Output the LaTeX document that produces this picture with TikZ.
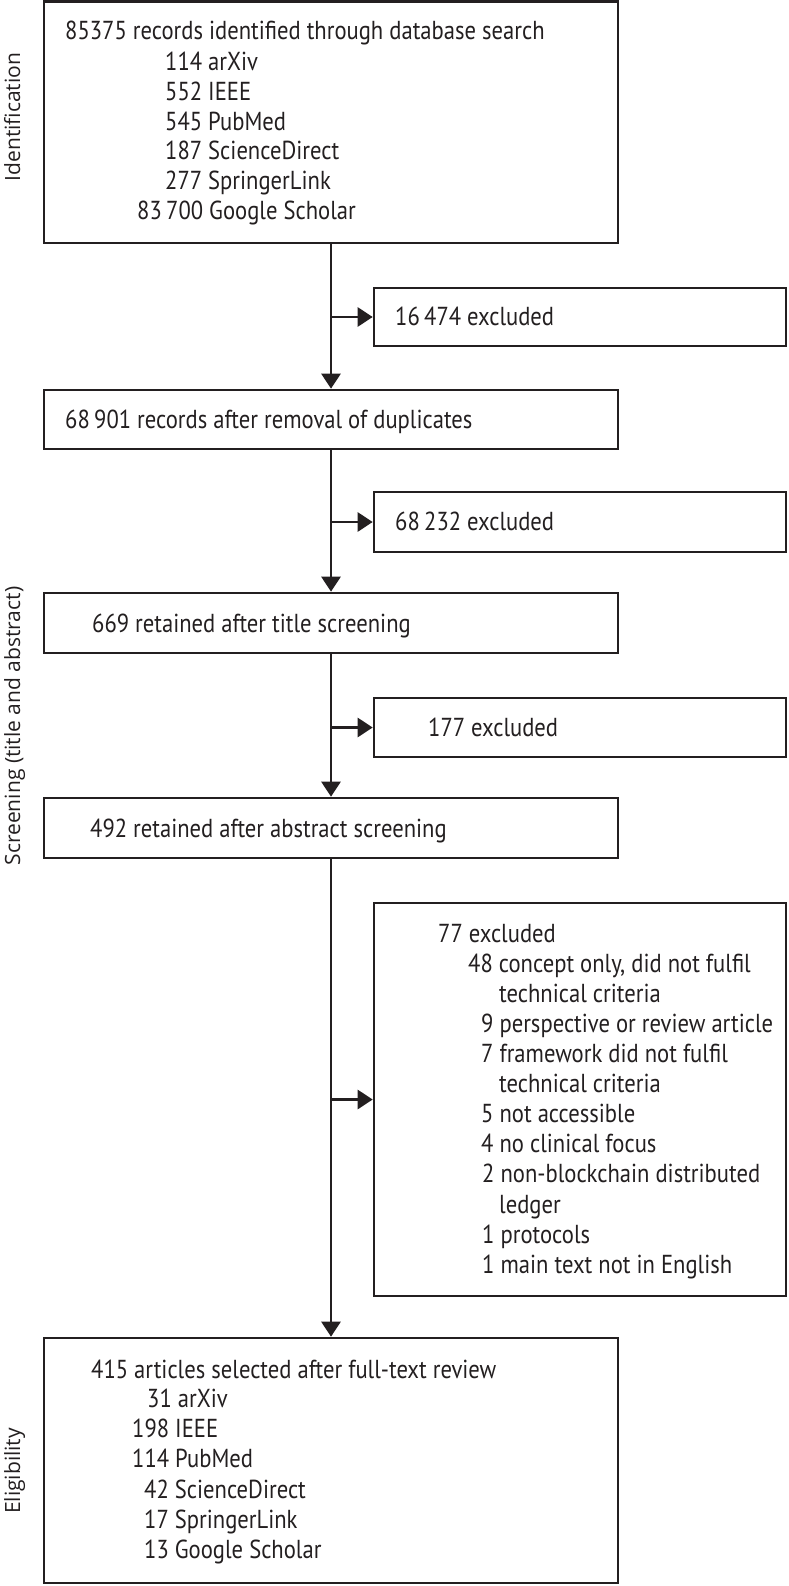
\documentclass[tikz,border=0pt]{standalone}
\usepackage{fontspec}
\usetikzlibrary{arrows.meta}
\newfontfamily\boxfont[FakeStretch=0.87]{PT Sans}
\newfontfamily\sidefont{Open Sans}
\definecolor{ink}{HTML}{231F20}
\tikzset{
  box/.style={draw=ink, line width=2.6pt, rectangle, inner sep=0pt},
  txt/.style={anchor=base west, inner sep=0pt, text=ink, font=\boxfont\fontsize{26}{30}\selectfont},
  side/.style={anchor=base, rotate=90, inner sep=0pt, text=ink, font=\sidefont\fontsize{21}{25}\selectfont},
  arr/.style={draw=ink, line width=2.6pt, -{Triangle[length=15pt,width=19pt]}},
}
\begin{document}
\begin{tikzpicture}[x=1pt,y=-1pt]
\useasboundingbox (0,0) rectangle (788,1586);
\fill[white] (0,0) rectangle (788,1586);
% boxes
\node[box, minimum width=574pt, minimum height=241.5pt] (b1) at (331,122.25) {};
\node[box, minimum width=412pt, minimum height=58pt] (e1) at (580,317) {};
\node[box, minimum width=574pt, minimum height=59pt] (b2) at (331,419.5) {};
\node[box, minimum width=412pt, minimum height=60pt] (e2) at (580,522) {};
\node[box, minimum width=574pt, minimum height=60pt] (b3) at (331,623) {};
\node[box, minimum width=412pt, minimum height=59pt] (e3) at (580,727.5) {};
\node[box, minimum width=574pt, minimum height=60pt] (b4) at (331,828) {};
\node[box, minimum width=412pt, minimum height=393pt] (e4) at (580,1099.5) {};
\node[box, minimum width=574pt, minimum height=245pt] (b5) at (331,1460.5) {};
% junctions
\coordinate (j1) at (331,317);
\coordinate (j2) at (331,522);
\coordinate (j3) at (331,727.5);
\coordinate (j4) at (331,1099.5);
% connectors
\draw[arr] (b1.south) -- (b2.north);
\draw[arr] (b2.south) -- (b3.north);
\draw[arr] (b3.south) -- (b4.north);
\draw[arr] (b4.south) -- (b5.north);
\draw[arr] (j1) -- (e1.west);
\draw[arr] (j2) -- (e2.west);
\draw[arr] (j3) -- (e3.west);
\draw[arr] (j4) -- (e4.west);
% side labels
\node[side] (s1) at (20,117) {Identification};
\node[side] (s2) at (20,726) {Screening (title and abstract)};
\node[side] (s3) at (20,1471) {Eligibility};
% top box text
\node[txt] (t1a) at (65,40) {85375 records identified through database search};
\node[txt] (t1b) at (165,71) {114 arXiv};
\node[txt] (t1c) at (165,101) {552 IEEE};
\node[txt] (t1d) at (165,131) {545 PubMed};
\node[txt] (t1e) at (165,160) {187 ScienceDirect};
\node[txt] (t1f) at (165,190) {277 SpringerLink};
\node[txt] (t1g) at (137,220) {83\,700 Google Scholar};
% excluded and main
\node[txt] (te1) at (395,326) {16\,474 excluded};
\node[txt] (t2) at (65,428) {68\,901 records after removal of duplicates};
\node[txt] (te2) at (395,530) {68\,232 excluded};
\node[txt] (t3) at (92,632) {669 retained after title screening};
\node[txt] (te3) at (428,736) {177 excluded};
\node[txt] (t4) at (90,837) {492 retained after abstract screening};
% 77 excluded box
\node[txt] (u1) at (438,942) {77 excluded};
\node[txt] (u2) at (468,972) {48 concept only, did not fulfil};
\node[txt] (u3) at (499,1002) {technical criteria};
\node[txt] (u4) at (481,1032) {9 perspective or review article};
\node[txt] (u5) at (481,1062) {7 framework did not fulfil};
\node[txt] (u6) at (499,1092) {technical criteria};
\node[txt] (u7) at (481,1122) {5 not accessible};
\node[txt] (u8) at (481,1152) {4 no clinical focus};
\node[txt] (u9) at (482,1182) {2 non-blockchain distributed};
\node[txt] (u10) at (499,1213) {ledger};
\node[txt] (u11) at (482,1243) {1 protocols};
\node[txt] (u12) at (482,1273) {1 main text not in English};
% bottom box
\node[txt] (v1) at (91,1378) {415 articles selected after full-text review};
\node[txt] (v2) at (147,1407) {31 arXiv};
\node[txt] (v3) at (132,1437) {198 IEEE};
\node[txt] (v4) at (132,1467) {114 PubMed};
\node[txt] (v5) at (144,1498) {42 ScienceDirect};
\node[txt] (v6) at (144,1528) {17 SpringerLink};
\node[txt] (v7) at (144,1558) {13 Google Scholar};
\end{tikzpicture}
\end{document}
